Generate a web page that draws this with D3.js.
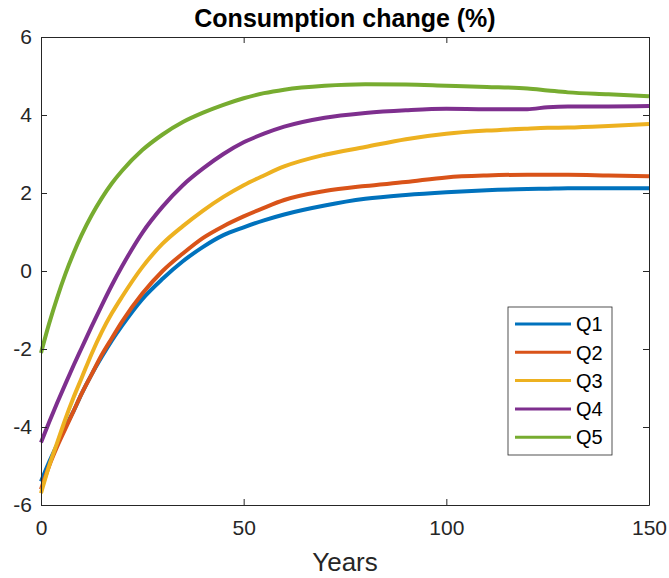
<!DOCTYPE html>
<html>
<head>
<meta charset="utf-8">
<script src="https://cdn.jsdelivr.net/npm/d3@7"></script>
<style>
  body { margin: 0; background: #fff; }
  svg text { font-family: "Liberation Sans", Arial, Helvetica, sans-serif; fill: #262626; }
</style>
</head>
<body>
<div id="chart"></div>
<script>
// values (years, consumption change in %)
var years = [0, 2, 4, 6, 8, 10, 12.5, 15, 17.5, 20, 25, 30, 35, 40, 45, 50, 55, 60, 70, 80, 90, 100, 110, 120, 125, 130, 140, 150];

var q1 = [-5.4, -4.9, -4.45, -4.0, -3.6, -3.15, -2.65, -2.2, -1.78, -1.4, -0.72, -0.2, 0.25, 0.62, 0.92, 1.12, 1.3, 1.45, 1.68, 1.85, 1.95, 2.02, 2.07, 2.1, 2.11, 2.12, 2.12, 2.12];
var q2 = [-5.6, -5.0, -4.5, -4.05, -3.6, -3.15, -2.65, -2.15, -1.72, -1.3, -0.58, 0.0, 0.45, 0.85, 1.15, 1.4, 1.62, 1.82, 2.05, 2.18, 2.28, 2.4, 2.45, 2.47, 2.47, 2.47, 2.45, 2.43];
var q3 = [-5.7, -5.0, -4.4, -3.8, -3.25, -2.75, -2.12, -1.56, -1.08, -0.66, 0.1, 0.7, 1.15, 1.55, 1.9, 2.2, 2.45, 2.68, 2.98, 3.18, 3.38, 3.52, 3.6, 3.65, 3.67, 3.68, 3.72, 3.77];
var q4 = [-4.4, -3.88, -3.38, -2.9, -2.43, -1.98, -1.42, -0.88, -0.36, 0.12, 0.98, 1.65, 2.2, 2.63, 3.0, 3.3, 3.52, 3.7, 3.93, 4.05, 4.12, 4.16, 4.15, 4.15, 4.2, 4.22, 4.22, 4.23];
var q5 = [-2.1, -1.35, -0.68, -0.08, 0.45, 0.92, 1.43, 1.87, 2.25, 2.57, 3.1, 3.5, 3.82, 4.06, 4.26, 4.43, 4.56, 4.65, 4.75, 4.79, 4.78, 4.75, 4.72, 4.68, 4.63, 4.58, 4.53, 4.48];

var names = ['Q1', 'Q2', 'Q3', 'Q4', 'Q5'];
var colors = ['#0072BD', '#D95319', '#EDB120', '#7E2F8E', '#77AC30'];
var xTicks = [0, 50, 100, 150];
var yTicks = [-6, -4, -2, 0, 2, 4, 6];

var series = [q1, q2, q3, q4, q5];

var width = 669, height = 578;
var margin = {top: 37, right: 20, bottom: 73, left: 41};
var w = width - margin.left - margin.right;
var h = height - margin.top - margin.bottom;

var svg = d3.select('#chart')
    .append('svg')
        .attr('width', width)
        .attr('height', height);

var g = svg.append('g')
    .attr('transform', 'translate(' + margin.left + ',' + margin.top + ')');

var x = d3.scaleLinear().domain([0, 150]).range([0, w]);
var y = d3.scaleLinear().domain([-6, 6]).range([h, 0]);

var line = d3.line()
    .x((d, i) => x(years[i]))
    .y(d => y(d))
    .curve(d3.curveMonotoneX);

g.selectAll('.series')
    .data(series)
    .enter()
    .append('path')
    .classed('series', true)
    .attr('d', line)
        .style('fill', 'none')
        .style('stroke', (d, i) => colors[i])
        .style('stroke-width', 4)
        .style('stroke-linejoin', 'round');

// axes, MATLAB style: ticks inside, box on
var tickLen = 6;
var axisColor = '#262626';
var plain = d => String(d);   // hyphen minus like the original, not the unicode one

g.append('g')
    .attr('transform', 'translate(0,' + h + ')')
    .call(d3.axisBottom(x).tickValues(xTicks).tickSizeInner(-tickLen).tickSizeOuter(0).tickPadding(15).tickFormat(plain))
    .call(styleAxis);

g.append('g')
    .call(d3.axisTop(x).tickValues(xTicks).tickSizeInner(-tickLen).tickSizeOuter(0).tickFormat(''))
    .call(styleAxis);

g.append('g')
    .call(d3.axisLeft(y).tickValues(yTicks).tickSizeInner(-tickLen).tickSizeOuter(0).tickPadding(9).tickFormat(plain))
    .call(styleAxis);

g.append('g')
    .attr('transform', 'translate(' + w + ',0)')
    .call(d3.axisRight(y).tickValues(yTicks).tickSizeInner(-tickLen).tickSizeOuter(0).tickFormat(''))
    .call(styleAxis);

function styleAxis(sel) {
    sel.select('.domain').style('stroke', axisColor).style('stroke-width', 1);
    sel.selectAll('.tick line').style('stroke', axisColor).style('stroke-width', 1);
    sel.selectAll('.tick text')
        .style('font-size', '21px')
        .style('fill', axisColor)
        .style('font-family', '"Liberation Sans", Arial, sans-serif');
}

// title and axis label
svg.append('text')
    .attr('x', margin.left + w / 2)
    .attr('y', 27)
    .attr('text-anchor', 'middle')
    .style('font-size', '25px')
    .style('font-weight', 'bold')
    .style('fill', '#000')
    .text('Consumption change (%)');

svg.append('text')
    .attr('x', margin.left + w / 2)
    .attr('y', 571)
    .attr('text-anchor', 'middle')
    .style('font-size', '26px')
    .text('Years');

// legend
var legend = svg.append('g')
    .attr('transform', 'translate(508,307)');

legend.append('rect')
    .attr('width', 104)
    .attr('height', 148)
    .style('fill', '#fff')
    .style('stroke', axisColor)
    .style('stroke-width', 0.8);

var item = legend.selectAll('.item')
    .data(names)
    .enter()
    .append('g')
    .classed('item', true)
    .attr('transform', (d, i) => 'translate(0,' + (17 + i * 28.3) + ')');

item.append('line')
    .attr('x1', 7)
    .attr('x2', 63)
        .style('stroke', (d, i) => colors[i])
        .style('stroke-width', 3);

item.append('text')
    .attr('x', 68)
    .attr('dy', '0.36em')
    .style('font-size', '20px')
    .style('fill', '#000')
    .text(d => d);
</script>
</body>
</html>
